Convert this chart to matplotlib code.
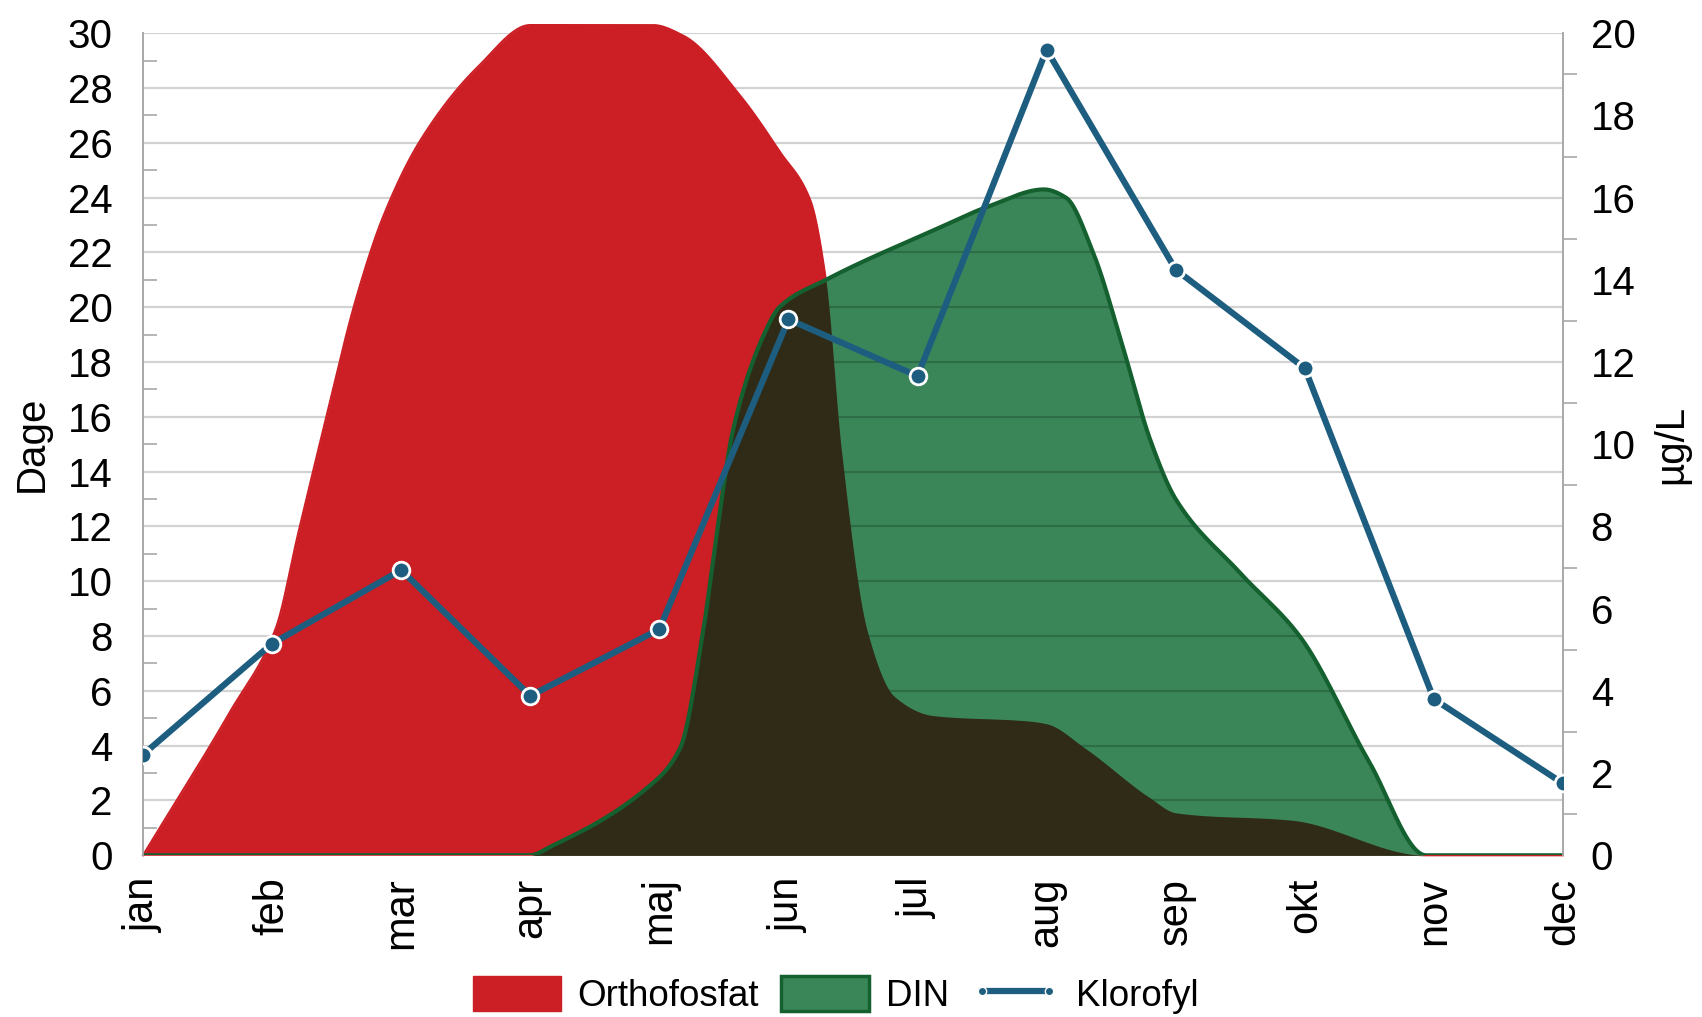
import numpy as np
import matplotlib
matplotlib.use("Agg")
import matplotlib.pyplot as plt
from matplotlib.patches import Patch
from matplotlib.lines import Line2D
from matplotlib.ticker import MultipleLocator

plt.rcParams["font.family"] = ["Liberation Sans", "DejaVu Sans"]

# ── Data ───────────────────────────────────────────────────────
months = ["jan", "feb", "mar", "apr", "maj", "jun", "jul", "aug", "sep", "okt", "nov", "dec"]

# Orthofosfat (Dage) at month positions
ortho_x = [0, 0.67, 1.03, 1.2, 1.4, 1.65, 1.86, 2.15, 2.6, 3.0, 3.95, 4.19, 4.63, 4.93,
           5.17, 5.29, 5.41, 5.61, 5.82, 6.12, 6.86, 7.0, 7.3, 7.8, 8.0, 8.9, 9.94, 10.5, 11]
ortho = [0, 5.2, 8.3, 11.7, 15.6, 20.3, 23.3, 26.1, 28.8, 30.3, 30.3, 29.9, 27.7, 25.7,
         23.9, 21.0, 14.8, 8.2, 5.8, 5.1, 4.9, 4.8, 3.9, 2.1, 1.55, 1.28, 0, 0, 0]

# DIN (Dage)
din_x = [0, 3.0, 3.15, 3.89, 4.16, 4.34, 4.45, 4.57, 4.81, 4.93, 5.29, 6.12, 6.56,
         6.98, 7.15, 7.36, 7.6, 7.8, 8.0, 8.5, 8.96, 9.5, 9.94, 10.5, 11]
din = [0, 0, 0.3, 2.4, 3.9, 8.2, 11.9, 15.5, 19.0, 20.0, 21.0, 22.8, 23.7,
       24.3, 24.0, 22.0, 18.4, 15.2, 13.0, 10.3, 8.0, 3.4, 0, 0, 0]

# Klorofyl (µg/L), one value per month
klorofyl = [2.45, 5.15, 6.94, 3.88, 5.5, 13.04, 11.66, 19.6, 14.25, 11.85, 3.8, 1.75]

# ── Colours ────────────────────────────────────────────────────
RED = "#cc1e25"
GREEN = "#3b8659"
GREEN_EDGE = "#14602f"
DARK = "#302b16"
BLUE = "#1d5e80"
GRID = "#d2d2d2"
FS = 29


def pchip(x, y, xs):
    # monotone cubic smoothing for drawing the areas
    x = np.asarray(x, float)
    y = np.asarray(y, float)
    h = np.diff(x)
    d = np.diff(y) / h
    m = np.zeros_like(y)
    m[0], m[-1] = d[0], d[-1]
    for k in range(1, len(x) - 1):
        if d[k - 1] * d[k] > 0:
            w1 = 2 * h[k] + h[k - 1]
            w2 = h[k] + 2 * h[k - 1]
            m[k] = (w1 + w2) / (w1 / d[k - 1] + w2 / d[k])
    idx = np.clip(np.searchsorted(x, xs) - 1, 0, len(x) - 2)
    t = (xs - x[idx]) / h[idx]
    h00 = 2 * t**3 - 3 * t**2 + 1
    h10 = t**3 - 2 * t**2 + t
    h01 = -2 * t**3 + 3 * t**2
    h11 = t**3 - t**2
    return h00 * y[idx] + h10 * h[idx] * m[idx] + h01 * y[idx + 1] + h11 * h[idx] * m[idx + 1]


xs = np.linspace(0, 11, 2000)
red_s = pchip(ortho_x, ortho, xs)
green_s = pchip(din_x, din, xs)
overlap = np.minimum(red_s, green_s)

# ── Plot ───────────────────────────────────────────────────────
fig = plt.figure(figsize=(17.02, 10.17), dpi=100)
ax = fig.add_axes([0.084, 0.159, 0.8343, 0.8083])

for v in range(0, 31, 2):
    ax.axhline(v, color=GRID, lw=1.6, zorder=0.5)

ax.fill_between(xs, 0, red_s, color=RED, lw=0, zorder=1, clip_on=False)
ax.plot(xs, red_s, color=RED, lw=1.5, zorder=1.1, clip_on=False)
gpoly = ax.fill_between(xs, 0, green_s, color=GREEN, lw=0, zorder=2)
gpath = gpoly.get_paths()[0]
for v in range(2, 31, 2):
    gl = ax.axhline(v, color="#2c6d47", lw=1.6, zorder=2.5)
    gl.set_clip_path(gpath, ax.transData)
ax.fill_between(xs, 0, overlap, color=DARK, lw=0, zorder=3)
ax.plot(xs, green_s, color=GREEN_EDGE, lw=3, zorder=4)

ax.set_xlim(0, 11)
ax.set_ylim(0, 30)
ax.set_xticks(range(12))
ax.set_xticklabels(months, rotation=90, fontsize=FS + 1)
ax.tick_params(axis="x", length=0, pad=16)
ax.yaxis.set_major_locator(MultipleLocator(2))
ax.yaxis.set_minor_locator(MultipleLocator(1))
ax.tick_params(axis="y", which="major", length=0, labelsize=FS, pad=22)
ax.tick_params(axis="y", which="minor", direction="in", length=10, width=1.2, color="#a8a8a8")
ax.set_ylabel("Dage", fontsize=FS, labelpad=12)
for s in ["top", "bottom"]:
    ax.spines[s].set_visible(False)
for s in ["left", "right"]:
    ax.spines[s].set_color("#a8a8a8")
    ax.spines[s].set_linewidth(1.2)

ax2 = ax.twinx()
ax2.plot(range(12), klorofyl, color=BLUE, lw=4.5, marker="o", markersize=12,
         markerfacecolor=BLUE, markeredgecolor="white", markeredgewidth=2, zorder=5)
ax2.set_ylim(0, 20)
ax2.yaxis.set_major_locator(MultipleLocator(2))
ax2.yaxis.set_minor_locator(MultipleLocator(1))
ax2.tick_params(axis="y", which="major", length=0, labelsize=FS, pad=20)
ax2.tick_params(axis="y", which="minor", direction="out", length=10, width=1.2, color="#a8a8a8")
ax2.set_ylabel("µg/L", fontsize=FS, labelpad=12)
for s in ["top", "bottom"]:
    ax2.spines[s].set_visible(False)
for s in ["left", "right"]:
    ax2.spines[s].set_color("#a8a8a8")
    ax2.spines[s].set_linewidth(1.2)

handles = [
    Patch(facecolor=RED, edgecolor=RED),
    Patch(facecolor=GREEN, edgecolor=GREEN_EDGE, linewidth=2.5),
    Line2D([0], [0], color=BLUE, lw=4.5, marker="o", markersize=6,
           markerfacecolor=BLUE, markeredgecolor="white", markeredgewidth=1),
]
fig.legend(handles, ["Orthofosfat", "DIN", "Klorofyl"], loc="center",
           bbox_to_anchor=(0.491, 0.022), ncol=3, frameon=False, fontsize=26.5,
           handlelength=2.4, handleheight=1.1, handletextpad=0.45,
           columnspacing=0.6, numpoints=2)

fig.savefig("out.png", dpi=100)
